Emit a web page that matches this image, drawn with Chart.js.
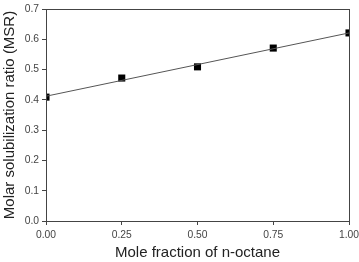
<!DOCTYPE html>
<html lang="en">
<head>
<meta charset="UTF-8">
<title>Molar solubilization ratio</title>
<script src="https://cdn.jsdelivr.net/npm/chart.js"></script>
<style>
    html, body { margin: 0; padding: 0; background: #fff; }
    #wrap { width: 359px; height: 262px; }
</style>
</head>
<body>
<div id="wrap"><canvas id="msrChart"></canvas></div>
<script>
    const moleFraction = [0.00, 0.25, 0.50, 0.75, 1.00];
    const msrValues = [0.409, 0.472, 0.509, 0.571, 0.621];
    // fitted straight line, end points
    const fitX = [0.00, 1.00];
    const fitY = [0.412, 0.621];

    const axisColor = '#444';
    const tickFont = { family: 'Arial, "Liberation Sans", sans-serif', size: 10.3 };
    const titleFont = { family: 'Arial, "Liberation Sans", sans-serif', size: 15 };

    // full box around the plot area
    const frame = {
        id: 'frame',
        afterDraw(chart) {
            const a = chart.chartArea, ctx = chart.ctx;
            ctx.save();
            ctx.strokeStyle = axisColor;
            ctx.lineWidth = 1;
            ctx.strokeRect(Math.round(a.left) + 0.5, Math.round(a.top) + 0.5,
                Math.round(a.right - a.left), Math.round(a.bottom - a.top));
            ctx.restore();
        }
    };

    new Chart(document.getElementById('msrChart'), {
        type: 'scatter',
        data: {
            datasets: [{
                type: 'line',
                data: fitX.map((x, i) => ({ x: x, y: fitY[i] })),
                borderColor: '#555',
                borderWidth: 1,
                pointRadius: 0,
                fill: false
            }, {
                data: moleFraction.map((x, i) => ({ x: x, y: msrValues[i] })),
                pointStyle: 'rect',
                pointRadius: 5,
                backgroundColor: '#000',
                borderColor: '#000',
                borderWidth: 0
            }]
        },
        options: {
            responsive: true,
            maintainAspectRatio: false,
            animation: false,
            layout: { padding: { top: 9, right: 10, left: 0, bottom: 0 } },
            plugins: { legend: { display: false }, tooltip: { enabled: false } },
            scales: {
                x: {
                    type: 'linear',
                    min: 0, max: 1,
                    afterFit: s => { s.height = 41; s.paddingLeft = 0; s.paddingRight = 0; },
                    ticks: {
                        stepSize: 0.25,
                        color: '#444',
                        font: tickFont,
                        padding: 4,
                        maxRotation: 0,
                        callback: v => v.toFixed(2)
                    },
                    grid: { drawOnChartArea: false, drawTicks: true, tickLength: 4, color: axisColor },
                    border: { display: true, color: axisColor },
                    title: {
                        display: true,
                        text: 'Mole fraction of n-octane',
                        color: '#222',
                        font: titleFont,
                        padding: { top: 0, bottom: 0 }
                    }
                },
                y: {
                    min: 0, max: 0.7,
                    afterFit: s => { s.width = 46; s.paddingTop = 0; s.paddingBottom = 0; },
                    ticks: {
                        stepSize: 0.1,
                        color: '#444',
                        font: tickFont,
                        padding: 3,
                        callback: v => v.toFixed(1)
                    },
                    grid: { drawOnChartArea: false, drawTicks: true, tickLength: 4, color: axisColor },
                    border: { display: true, color: axisColor },
                    title: {
                        display: true,
                        text: 'Molar solubilization ratio (MSR)',
                        color: '#222',
                        font: titleFont,
                        padding: { top: 1, bottom: 0 }
                    }
                }
            }
        },
        plugins: [frame]
    });
</script>
</body>
</html>
